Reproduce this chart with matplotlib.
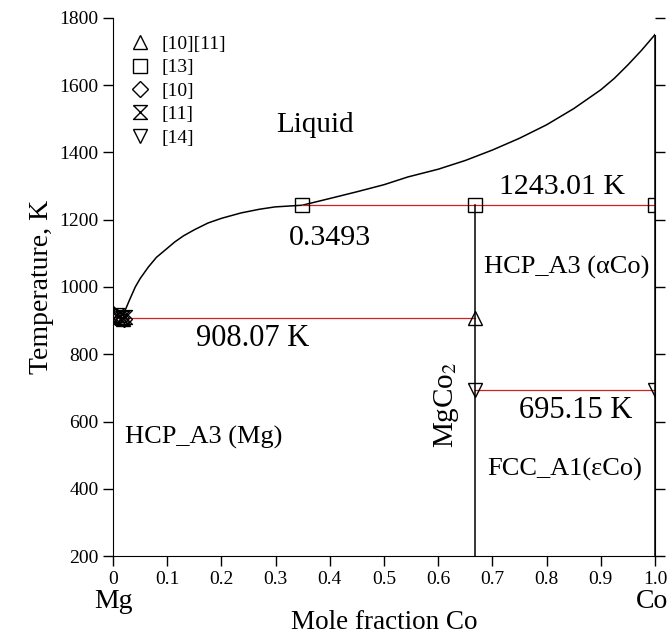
import numpy as np
import matplotlib.pyplot as plt
from matplotlib.path import Path

plt.rcParams['font.family'] = ['Liberation Serif', 'DejaVu Serif']
plt.rcParams['mathtext.fontset'] = 'stix'

# liquidus
liq_x = [0.0, 0.01, 0.018, 0.024, 0.03, 0.041, 0.05, 0.065, 0.08, 0.1, 0.114,
         0.13, 0.15, 0.175, 0.2, 0.236, 0.27, 0.299, 0.3493,
         0.4, 0.45, 0.5, 0.544, 0.6, 0.65, 0.7, 0.75, 0.8, 0.85, 0.9,
         0.925, 0.95, 0.975, 1.0]
liq_T = [923, 908.07, 918, 937, 960, 1000, 1025, 1059, 1088, 1115, 1134,
         1152, 1170, 1190, 1204, 1220, 1231, 1238, 1243.01,
         1263, 1283, 1304, 1327, 1350, 1376, 1407, 1442, 1482, 1530, 1586,
         1620, 1660, 1703, 1750]

# invariant lines
T_eut_mg = 908.07
T_per = 1243.01
T_trans = 695.15
x_mgco2 = 0.667
x_per = 0.3493

# experimental points
tri_x = [0.667, 0.004, 0.012, 0.018]
tri_T = [908.07, 918, 912, 906]
sq_x = [0.3493, 0.667, 1.0]
sq_T = [1243.01, 1243.01, 1243.01]
dia_x = [0.0, 0.006, 0.014, 0.02]
dia_T = [921, 914, 909, 905]
hg_x = [0.008, 0.016, 0.022]
hg_T = [916, 908, 910]
dtri_x = [0.667, 1.0]
dtri_T = [695.15, 695.15]

hourglass = Path([(-1, 1), (1, 1), (-1, -1), (1, -1), (-1, 1)])

fig = plt.figure(figsize=(6.69, 6.37), dpi=100)
ax = fig.add_axes([0.169, 0.127, 0.810, 0.845])

red = '#d02020'
ax.plot(liq_x, liq_T, color='k', lw=1.1)
ax.plot([0.01, x_mgco2], [T_eut_mg, T_eut_mg], color=red, lw=0.9)
ax.plot([x_per, 1.0], [T_per, T_per], color=red, lw=0.9)
ax.plot([x_mgco2, 1.0], [T_trans, T_trans], color=red, lw=0.9)
ax.plot([x_mgco2, x_mgco2], [200, T_per], color='k', lw=1.1)
ax.plot([1.0, 1.0], [200, 1750], color='k', lw=1.1)

ms = 10
kw = dict(color='k', mfc='none', mec='k', mew=1.0, ms=ms, ls='none')
ax.plot(tri_x, tri_T, marker='^', label='[10][11]', **kw)
ax.plot(sq_x, sq_T, marker='s', label='[13]', **kw)
ax.plot(dia_x, dia_T, marker='D', label='[10]', **dict(kw, ms=8))
ax.plot(hg_x, hg_T, marker=hourglass, label='[11]', **dict(kw, ms=10))
ax.plot(dtri_x, dtri_T, marker='v', label='[14]', **kw)

ax.legend(loc='upper left', bbox_to_anchor=(0.0, 1.0), frameon=False,
          fontsize=14, handletextpad=0.6, labelspacing=0.3, borderaxespad=0.5,
          handlelength=1.0)

ax.text(0.373, 1482, 'Liquid', fontsize=21, ha='center', va='center')
ax.text(0.828, 1297, '1243.01 K', fontsize=21.5, ha='center', va='center')
ax.text(0.40, 1146, '0.3493', fontsize=21.5, ha='center', va='center')
ax.text(0.837, 1059, 'HCP_A3 (αCo)', fontsize=19, ha='center', va='center')
ax.text(0.258, 848, '908.07 K', fontsize=22, ha='center', va='center')
ax.text(0.854, 634, '695.15 K', fontsize=22, ha='center', va='center')
ax.text(0.616, 649, 'MgCo$_2$', fontsize=21, ha='center', va='center',
        rotation=90)
ax.text(0.168, 554, 'HCP_A3 (Mg)', fontsize=19, ha='center', va='center')
ax.text(0.834, 459, 'FCC_A1(εCo)', fontsize=19, ha='center', va='center')

ax.set_xlim(0, 1.0)
ax.set_ylim(200, 1800)
ax.set_xticks(np.arange(0, 1.01, 0.1))
ax.set_xticklabels(['0', '0.1', '0.2', '0.3', '0.4', '0.5', '0.6', '0.7',
                    '0.8', '0.9', '1.0'])
ax.set_yticks(np.arange(200, 1801, 200))
ax.tick_params(direction='out', length=7, width=1, labelsize=14, right=True)
ax.spines['top'].set_visible(False)
ax.spines['right'].set_bounds(200, 1750)
ax.set_ylabel('Temperature, K', fontsize=20)
ax.set_xlabel('Mole fraction Co', fontsize=19.5, labelpad=16)
ax.text(0.0, -0.085, 'Mg', transform=ax.transAxes, fontsize=20,
        ha='center', va='center')
ax.text(1.024, -0.085, 'Co', transform=ax.transAxes, fontsize=20,
        ha='right', va='center')

fig.savefig('out.png', dpi=100)
